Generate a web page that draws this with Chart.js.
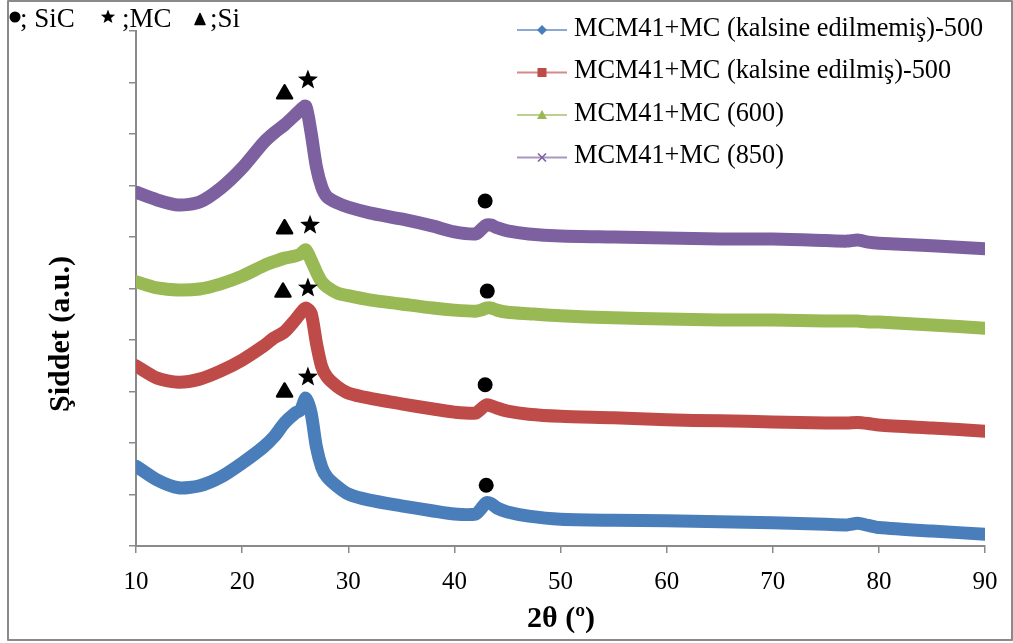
<!DOCTYPE html>
<html>
<head>
<meta charset="utf-8">
<script src="https://cdn.jsdelivr.net/npm/chart.js@4.4.1/dist/chart.umd.min.js"></script>
<style>
  html, body { margin: 0; padding: 0; background: #fff; }
  #wrap { width: 1013px; height: 643px; position: relative; }
</style>
</head>
<body>
<div id="wrap"><canvas id="xrdChart"></canvas></div>
<script>
// 2theta positions
var twoTheta = [10, 12, 14, 16, 18, 20, 22, 23, 24, 25, 25.5, 26, 26.5, 27, 27.5, 28, 29, 30, 32, 35, 38, 40,
  42, 42.5, 43, 43.5, 44, 45, 47, 50, 55, 60, 65, 70, 75, 77, 78, 79, 80, 85, 90];

var seriesNames = ['MCM41+MC (kalsine edilmemiş)-500', 'MCM41+MC (kalsine edilmiş)-500', 'MCM41+MC (600)', 'MCM41+MC (850)'];
var seriesColors = ['#4a7ebb', '#be4b48', '#98b954', '#7d60a0'];
var seriesMarkers = ['diamond', 'square', 'triangle', 'cross'];

// intensities (a.u.), curves are stacked with an offset like the original
var unCalcined500 = [155, 128, 113, 117, 134, 161, 192, 212, 239, 258, 264, 287, 258, 192, 153, 134, 115, 101, 89, 78, 68, 62,
  62, 72, 84, 82, 74, 66, 58, 52, 50, 49, 47, 45, 42, 41, 44, 40, 36, 29, 23];
var calcined500 = [350, 326, 318, 324, 340, 361, 388, 404, 416, 439, 452, 462, 452, 394, 348, 328, 309, 297, 287, 276, 266, 260,
  258, 266, 274, 272, 268, 262, 256, 252, 249, 245, 243, 241, 239, 239, 240, 238, 235, 229, 223];
var mc600 = [513, 501, 497, 499, 509, 524, 544, 552, 559, 563, 567, 575, 555, 532, 513, 503, 491, 486, 478, 470, 462, 458,
  456, 458, 462, 462, 458, 454, 451, 447, 443, 441, 439, 439, 437, 437, 437, 435, 435, 429, 423];
var mc850 = [687, 672, 662, 668, 695, 734, 783, 802, 818, 837, 847, 854, 802, 736, 697, 678, 666, 658, 647, 635, 621, 610,
  606, 614, 623, 623, 618, 612, 606, 602, 600, 598, 596, 596, 593, 592, 594, 590, 588, 583, 577];

// phase marks above the peaks
var siX = [24.0, 24.0, 23.85, 24.0];
var siY = [882, 620, 497, 303];
var mcX = [26.2, 26.4, 26.2, 26.2];
var mcY = [905, 623, 501, 328];
var sicX = [42.9, 43.1, 42.9, 43.0];
var sicY = [670, 495, 313, 118];

var allSeries = [unCalcined500, calcined500, mc600, mc850];

function toPoints(values) {
  return values.map(function (v, i) { return { x: twoTheta[i], y: v }; });
}

function drawTriangle(ctx, cx, cy, w, h) {
  ctx.beginPath();
  ctx.moveTo(cx, cy - h / 2);
  ctx.lineTo(cx - w / 2, cy + h / 2);
  ctx.lineTo(cx + w / 2, cy + h / 2);
  ctx.closePath();
  ctx.fill();
  ctx.stroke();
}

function drawStar(ctx, cx, cy, r1, r2) {
  ctx.beginPath();
  for (var k = 0; k < 10; k++) {
    var r = k % 2 == 0 ? r1 : r2;
    var a = -Math.PI / 2 + k * Math.PI / 5;
    var px = cx + r * Math.cos(a), py = cy + r * Math.sin(a);
    if (k == 0) ctx.moveTo(px, py); else ctx.lineTo(px, py);
  }
  ctx.closePath();
  ctx.fill();
}

function drawDot(ctx, cx, cy, r) {
  ctx.beginPath();
  ctx.arc(cx, cy, r, 0, Math.PI * 2);
  ctx.fill();
}

function drawLegendMarker(ctx, kind, cx, cy, color) {
  ctx.fillStyle = color;
  ctx.strokeStyle = color;
  if (kind == 'diamond') {
    ctx.beginPath();
    ctx.moveTo(cx, cy - 5); ctx.lineTo(cx + 5, cy); ctx.lineTo(cx, cy + 5); ctx.lineTo(cx - 5, cy);
    ctx.closePath(); ctx.fill();
  } else if (kind == 'square') {
    ctx.fillRect(cx - 4.5, cy - 4.5, 9, 9);
  } else if (kind == 'triangle') {
    ctx.beginPath();
    ctx.moveTo(cx, cy - 5); ctx.lineTo(cx + 5, cy + 4); ctx.lineTo(cx - 5, cy + 4);
    ctx.closePath(); ctx.fill();
  } else {
    ctx.lineWidth = 1.6;
    ctx.beginPath();
    ctx.moveTo(cx - 4, cy - 4); ctx.lineTo(cx + 4, cy + 4);
    ctx.moveTo(cx + 4, cy - 4); ctx.lineTo(cx - 4, cy + 4);
    ctx.stroke();
  }
}

var decorPlugin = {
  id: 'decor',
  afterDatasetsDraw: function (chart) {
    var ctx = chart.ctx;
    var xs = chart.scales.x, ys = chart.scales.y;
    ctx.save();
    ctx.fillStyle = '#000';
    ctx.strokeStyle = '#000';
    ctx.lineWidth = 2.5;
    ctx.lineJoin = 'round';
    for (var i = 0; i < siX.length; i++) {
      drawTriangle(ctx, xs.getPixelForValue(siX[i]), ys.getPixelForValue(siY[i]), 15, 13);
      drawStar(ctx, xs.getPixelForValue(mcX[i]), ys.getPixelForValue(mcY[i]), 10.5, 4.4);
      drawDot(ctx, xs.getPixelForValue(sicX[i]), ys.getPixelForValue(sicY[i]), 7.5);
    }
    ctx.restore();
  },
  afterDraw: function (chart) {
    var ctx = chart.ctx;
    ctx.save();

    // legend (line + marker, like the spreadsheet legend)
    var rows = [30, 72.5, 115, 157.5];
    ctx.font = '26.3px "Liberation Serif"';
    ctx.textBaseline = 'middle';
    for (var i = 0; i < seriesNames.length; i++) {
      ctx.globalAlpha = 0.65;
      ctx.strokeStyle = seriesColors[i];
      ctx.lineWidth = 2;
      ctx.beginPath();
      ctx.moveTo(517, rows[i]);
      ctx.lineTo(567, rows[i]);
      ctx.stroke();
      ctx.globalAlpha = 1;
      drawLegendMarker(ctx, seriesMarkers[i], 542, rows[i], seriesColors[i]);
      ctx.fillStyle = '#000';
      ctx.fillText(seriesNames[i], 574, rows[i] - 1);
    }

    // phase key in the top left corner
    ctx.fillStyle = '#000';
    ctx.strokeStyle = '#000';
    ctx.textBaseline = 'alphabetic';
    ctx.font = '27px "Liberation Serif"';
    ctx.fillText('; SiC', 20, 27);
    ctx.fillText(';MC', 122, 27);
    ctx.fillText(';Si', 210, 27);
    drawDot(ctx, 15, 17, 5.5);
    drawStar(ctx, 108, 17, 7.5, 3.2);
    ctx.lineWidth = 1.5;
    ctx.lineJoin = 'round';
    drawTriangle(ctx, 200, 19, 10, 11);

    // axis titles
    ctx.font = 'bold 30px "Liberation Serif"';
    ctx.textAlign = 'center';
    ctx.fillText('2θ (º)', 561, 627);
    ctx.translate(69, 334);
    ctx.rotate(-Math.PI / 2);
    ctx.fillText('Şiddet (a.u.)', 0, 0);
    ctx.setTransform(1, 0, 0, 1, 0, 0);

    // outer frame
    ctx.strokeStyle = '#8a8a8a';
    ctx.lineWidth = 2;
    ctx.strokeRect(8, 1, 1004, 639);
    ctx.restore();
  }
};

var datasets = allSeries.map(function (values, i) {
  return {
    label: seriesNames[i],
    data: toPoints(values),
    borderColor: seriesColors[i],
    backgroundColor: seriesColors[i],
    borderWidth: 13,
    borderJoinStyle: 'round',
    borderCapStyle: 'round',
    pointRadius: 0,
    tension: 0.25
  };
});

var ctx = document.getElementById('xrdChart').getContext('2d');
var xrdChart = new Chart(ctx, {
  type: 'line',
  data: { datasets: datasets },
  options: {
    responsive: true,
    maintainAspectRatio: false,
    animation: false,
    layout: { padding: { top: 31, right: 28, left: 0, bottom: 0 } },
    plugins: {
      legend: { display: false },
      tooltip: { enabled: false }
    },
    scales: {
      x: {
        type: 'linear',
        min: 10,
        max: 90,
        afterFit: function (scale) { scale.height = 97; },
        ticks: {
          stepSize: 10,
          padding: 14,
          color: '#000',
          font: { family: 'Liberation Serif', size: 25 }
        },
        grid: { drawOnChartArea: false, drawTicks: true, tickLength: 7, color: '#8a8a8a', lineWidth: 1.5 },
        border: { color: '#8a8a8a', width: 2 }
      },
      y: {
        min: 0,
        max: 1000,
        afterFit: function (scale) { scale.width = 136; },
        ticks: { stepSize: 100, display: false },
        grid: { drawOnChartArea: false, drawTicks: true, tickLength: 7, color: '#8a8a8a', lineWidth: 1.5 },
        border: { color: '#8a8a8a', width: 2 }
      }
    }
  },
  plugins: [decorPlugin]
});
</script>
</body>
</html>
